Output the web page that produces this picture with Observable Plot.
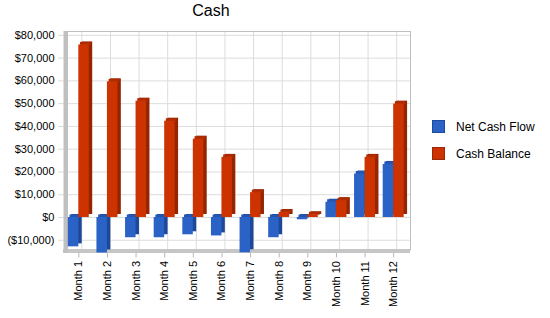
<!DOCTYPE html>
<html>
<head>
<meta charset="utf-8">
<script src="https://cdn.jsdelivr.net/npm/d3@7"></script>
<script src="https://cdn.jsdelivr.net/npm/@observablehq/plot@0.6"></script>
<style>
  body { margin: 0; background: #fff; }
  #chart { position: relative; width: 550px; height: 318px; font-family: "Liberation Sans", Arial, sans-serif; color: #000; }
  #chart svg { position: absolute; left: 0; top: 0; }
  #title { position: absolute; left: 0; top: 2px; width: 422px; text-align: center; font-size: 16px; }
  .legend-item { position: absolute; left: 432px; height: 13px; display: flex; align-items: center; font-size: 12px; white-space: nowrap; }
  .legend-item .swatch { width: 11px; height: 11px; border: 1px solid; margin-right: 11px; }
  #chart [aria-label="x-axis tick"] { stroke: #b8b8b8; }
</style>
</head>
<body>
<div id="chart">
  <div id="title">Cash</div>
</div>
<script>
// Monthly cash figures
const months = ["Month 1", "Month 2", "Month 3", "Month 4", "Month 5", "Month 6",
                "Month 7", "Month 8", "Month 9", "Month 10", "Month 11", "Month 12"];
const netCashFlow = [-12900, -16200, -8900, -8900, -7600, -8100, -15500, -8900, -1000, 6700, 19100, 23300];
const cashBalance = [75800, 59600, 51100, 42300, 34400, 26400, 10900, 2200, 1200, 7400, 26400, 49800];
const seriesNames = ["Net Cash Flow", "Cash Balance"];
const yTicks = [-10000, 0, 10000, 20000, 30000, 40000, 50000, 60000, 70000, 80000];
const yDomain = [-15600, 81700];

// colours per series: front face, side face, top face, swatch border
const palette = {
  "Net Cash Flow": {front: "#2a62c6", side: "#1c4899", top: "#2556b2", border: "#1c4a9c"},
  "Cash Balance":  {front: "#cc3300", side: "#952500", top: "#b02c00", border: "#99290a"}
};

const rows = months.flatMap((m, i) => [
  {month: m, series: seriesNames[0], value: netCashFlow[i]},
  {month: m, series: seriesNames[1], value: cashBalance[i]}
]);

const xRange = [64, 407.5];
const band = (xRange[1] - xRange[0]) / months.length;  // width of one month slot
const face = 10.5;                                     // front face width of a bar
const depth = {dx: 3.4, dy: -3};                       // 3D extrusion offset

const money = d3.format(",");
const fmtY = d => d < 0 ? `($${money(-d)})` : `$${money(d)}`;

// side + top faces drawn as offset layers behind the front face
function barMarks(name, side) {
  const data = rows.filter(r => r.series === name);
  const c = palette[name];
  const insets = side === "left"
    ? {insetLeft: band / 2 - face, insetRight: band / 2}
    : {insetLeft: band / 2, insetRight: band / 2 - face};
  return [
    Plot.barY(data, {x: "month", y: "value", fill: c.side, ...insets, ...depth}),
    Plot.tickY(data, {x: "month", y: d => Math.max(d.value, 0), stroke: c.top, strokeWidth: 3,
                      ...insets, dx: depth.dx / 2, dy: depth.dy / 2}),
    Plot.barY(data, {x: "month", y: "value", fill: c.front, ...insets})
  ];
}

const chart = Plot.plot({
  width: 550,
  height: 318,
  marginLeft: 58,
  marginRight: 140,
  marginTop: 31,
  marginBottom: 65.5,
  style: {fontSize: "11px", fontFamily: "'Liberation Sans', Arial, sans-serif", background: "transparent"},
  x: {domain: months, range: xRange, padding: 0, round: false, label: null, tickRotate: -90, tickSize: 5, tickPadding: 3},
  y: {domain: yDomain, clamp: true, ticks: 10, tickFormat: fmtY, tickSize: 0, tickPadding: 4, label: null},
  marks: [
    Plot.ruleY(yTicks, {stroke: "#dcdcdc"}),
    Plot.ruleX(months, {stroke: "#dcdcdc", dx: 3, insetBottom: 3}),
    Plot.frame({stroke: "#c0c0c0", insetLeft: 9, insetBottom: 3}),
    Plot.ruleY([yDomain[0]], {stroke: "#c6c6c6", strokeWidth: 4, dy: -2, insetLeft: 5}),
    Plot.ruleX([months[0]], {stroke: "#c0c0c0", strokeWidth: 4, dx: -13.3}),
    ...barMarks("Net Cash Flow", "left"),
    ...barMarks("Cash Balance", "right")
  ]
});

const host = document.getElementById("chart");
host.appendChild(chart);

// legend on the right
seriesNames.forEach((name, i) => {
  const item = document.createElement("div");
  item.className = "legend-item";
  item.style.top = (120 + i * 27) + "px";
  const sw = document.createElement("span");
  sw.className = "swatch";
  sw.style.background = palette[name].front;
  sw.style.borderColor = palette[name].border;
  const label = document.createElement("span");
  label.textContent = name;
  item.append(sw, label);
  host.appendChild(item);
});
</script>
</body>
</html>
